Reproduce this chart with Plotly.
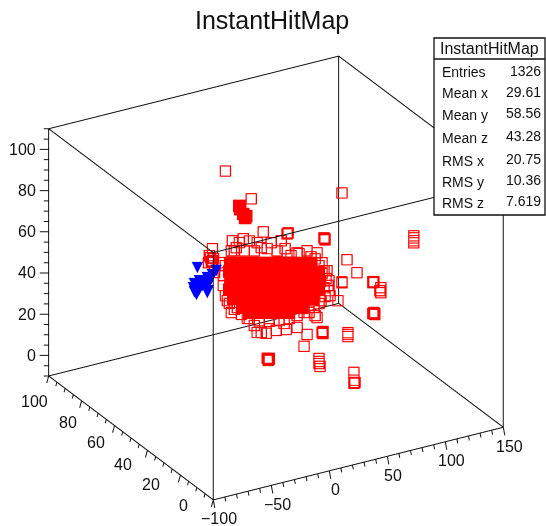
import plotly.graph_objects as go

# ---- data (x, y, z of hits) ----
open_x = [-4.6,17.7,95.9,28,49.5,48.6,81.3,81.3,80.4,1.4,10.8,16,43.5,34.9,7.4,22.8,-15.8,-19.2,-15.8,65.8,74.4,78.7,52,100.2,108.8,95.9,95.9,122.5,122.5,123.4,129.4,129.4,128.5,129.4,123.4,122.5,123.4,124.2,124.2,
          92.4,85.6,80.4,74.4,65.8,63.2,79.5,79.5,78.7,79.5,101,101,101,47.8,39.2,22.8,30.6,26.3,57.2,32.3,31.4,33.2,32.3,33.2,76.1,76.1,77,76.1,
          14.3,24.6,33.2,5.7,72.7,60.6,70,78.7,-14,-9.8,3.1,58.9,84.7,83,77.8,-2.9,0.5,50.3,67.5,20.3,46,
          .5,4.8,11.7,20.3,26.3,31.4,40,46.9,57.2,69.2,72.7,76.1,80.4,82.1,83.8,84.7,81.3,76.1,71.8,63.2,57.2,41.7,33.2,16,9.1,3.1,-1.2,-4.6,-6.4,-6.4,-4.6,
          -17.5,-16.7,-18.4,-14.9]
open_y = [60]*123
open_z = [100.1,83.5,75.3,66,62.5,62.1,55.1,54.6,55.7,65.4,65.1,63.3,59.5,59.8,63.7,61.5,64,57.7,58.2,51.5,49.3,43.9,51.1,42.3,34.8,31.7,32.2,28.5,28,28.4,23.2,24.6,23.3,22.2,12.9,13,13.4,12.8,12.3,
          23.5,26.9,31.5,17.9,10.9,5.5,9.9,10.4,10,9.4,5.9,6.8,4.9,15.8,16.6,17.9,16.4,17.4,15.5,3.5,4.2,3.4,3,3.9,-2.2,-4.7,-6.2,-3.7,
          25.9,23.4,23.2,32.4,19.1,24.6,26.7,38.6,52.2,56.4,60.4,51.1,34.3,39.4,25.6,37,30.7,20.8,21.3,21.6,19,
          60.7,61.6,59.1,57.9,58.6,57.4,55.1,55.2,51.7,48.1,46.6,42.8,39.7,35.7,32.1,29.5,27.1,24.4,23.1,21.9,21.3,21,21.8,25.6,28.6,31.9,35.4,39.6,44.8,49.6,54.2,
          59.9,57.9,61,59.1]

far_x = [143.6,143.6,143.6,143.6]
far_y = [50,50,50,50]
far_z = [53.8,52.8,51.4,50.4]

low_x = [77.8,77.8,78.7,77.8]
low_y = [40,40,40,40]
low_z = [2.8,-2.5,-2.2,-1]

# the dense core, where the open squares merge into solid red
core_x = [.5,9.1,17.7,26.3,34.9,43.5,52,60.6,69.2,
          -1.2,7.4,16,24.6,33.2,41.7,50.3,58.9,67.5,76.1,
          -.3,8.2,16.8,25.4,34,42.6,51.2,59.8,68.4,77,
          -1.2,7.4,16,24.6,33.2,41.7,50.3,58.9,67.5,76.1,
          2.2,10.8,19.4,28,36.6,45.2,53.8,62.4,71,
          10,18.6,27.1,35.7,44.3,52.9,61.5,
          16,24.6,33.2,41.7,50.3,
          7.4,8.2,10.8,13.4,12.5]
core_y = [60]*65
core_z = [54.9,53.7,52.5,51.3,50.1,48.9,47.7,46.4,45.2,
          50.9,49.7,48.4,47.2,46,44.8,43.6,42.4,41.2,39.9,
          46.3,45.1,43.9,42.7,41.5,40.3,39.1,37.9,36.6,35.4,
          42.2,41,39.7,38.5,37.3,36.1,34.9,33.7,32.5,31.2,
          37.3,36.1,34.9,33.6,32.4,31.2,30,28.8,27.6,
          31.8,30.6,29.4,28.2,26.9,25.7,24.5,
          28.5,27.3,26.1,24.9,23.7,
          81.6,79.9,77.2,75.8,75]

blue_x = [-42.9,-26.6,-30,-34.3,-30.9,-36.9,-41.2,-45.5,-42.9,-38.6,-34.3,-46.3,-41.2,-35.2,-45.5,-43.7,-33.4,-34.3,-43.7]
blue_y = [50]*19
blue_z = [64.7,61,59.4,58.6,57.7,57,58.1,57.3,56,55.3,55.7,55.4,53.8,53.5,53.4,52.9,52.2,51.3,51.7]

x_ticks = [-100,-50,0,50,100,150]
y_ticks = [0,20,40,60,80,100]
z_ticks = [0,20,40,60,80,100]
x_labels = ["\u2212100","\u221250","0","50","100","150"]
y_labels = ["0","20","40","60","80","100"]
z_labels = ["0","20","40","60","80","100"]

stat_names = ["Entries","Mean x","Mean y","Mean z","RMS x","RMS y","RMS z"]
stat_values = ["1326","29.61","58.56","43.28","20.75","10.36","7.619"]
title = "InstantHitMap"

# ---- frame ----
X0,X1 = -100,150
Y0,Y1 = 0,100
Z0,Z1 = -10,110
PAD_X,PAD_Y,PAD_Z = 25,10,12   # room for tick marks outside the drawn frame

fx,fy,fz = [],[],[]
def seg(a,b):
    for v,arr in zip(a,(fx,fy,fz)):
        arr.append(v)
    for v,arr in zip(b,(fx,fy,fz)):
        arr.append(v)
    for arr in (fx,fy,fz):
        arr.append(None)
for z in (Z0,Z1):
    seg((X0,Y0,z),(X1,Y0,z)); seg((X1,Y0,z),(X1,Y1,z))
    seg((X1,Y1,z),(X0,Y1,z)); seg((X0,Y1,z),(X0,Y0,z))
for px,py in ((X0,Y0),(X1,Y0),(X1,Y1),(X0,Y1)):
    seg((px,py,Z0),(px,py,Z1))

tx,ty,tz = [],[],[]
def tick(p,d,k):
    for v,dv,arr in zip(p,d,(tx,ty,tz)):
        arr.append(v); arr.append(v+dv*k); arr.append(None)
for v in range(-100,151,10):
    tick((v,Y0,Z0),(0,-0.9,-3.4),1 if v%50==0 else 0.55)
for v in range(0,101,5):
    tick((X0,v,Z0),(-1.7,0,-3.2),1 if v%20==0 else 0.55)
for v in range(-10,111,5):
    tick((X0,Y1,v),(-5.8,1.36,0),1 if v%20==0 else 0.55)

RED="#ff0000"; BLUE="#0000ff"; INK="#111111"
fig = go.Figure()
fig.add_trace(go.Scatter3d(x=fx,y=fy,z=fz,mode="lines",line=dict(color=INK,width=2),hoverinfo="skip"))
fig.add_trace(go.Scatter3d(x=tx,y=ty,z=tz,mode="lines",line=dict(color=INK,width=2),hoverinfo="skip"))
fig.add_trace(go.Scatter3d(x=core_x,y=core_y,z=core_z,mode="markers",marker=dict(symbol="square",size=6.5,color=RED)))
fig.add_trace(go.Scatter3d(x=open_x+far_x+low_x,y=open_y+far_y+low_y,z=open_z+far_z+low_z,mode="markers",
                           marker=dict(symbol="square-open",size=4.6,color=RED,line=dict(width=1,color=RED))))
fig.add_trace(go.Scatter3d(x=blue_x,y=blue_y,z=blue_z,mode="text",text=["\u25bc"]*len(blue_x),textposition="middle center",
                           textfont=dict(color=BLUE,size=15,family="DejaVu Sans")))

ann=[]
F=dict(family="Liberation Sans",size=16,color=INK)
for v,l in zip(x_ticks,x_labels):
    ann.append(dict(x=v,y=Y0,z=Z0,text=l,showarrow=False,xshift=6,yshift=-19,font=F))
for v,l,(sx,sy) in zip(y_ticks,y_labels,[(-30,-6),(-29,-9),(-24,-14),(-19,-17),(-14,-22),(-14,-26)]):
    ann.append(dict(x=X0,y=v,z=Z0,text=l,showarrow=False,xshift=sx,yshift=sy,font=F))
for v,l in zip(z_ticks,z_labels):
    ann.append(dict(x=X0,y=Y1,z=v,text=l,showarrow=False,xanchor="right",xshift=-11,font=F))

axis=dict(visible=False,showbackground=False,showspikes=False)
fig.update_layout(
    width=546,height=526,margin=dict(l=0,r=0,t=0,b=0),paper_bgcolor="white",showlegend=False,
    scene=dict(
        domain=dict(x=[6/546,1],y=[0,1-30/526]),
        xaxis=dict(axis,range=[X0-PAD_X,X1+PAD_X]),
        yaxis=dict(axis,range=[Y0-PAD_Y,Y1+PAD_Y]),
        zaxis=dict(axis,range=[Z0-PAD_Z,Z1+PAD_Z]),
        aspectmode="manual",aspectratio=dict(x=1.62,y=1.594,z=1.328),
        camera=dict(eye=dict(x=-0.9,y=-1.56,z=0.868),up=dict(x=0,y=0,z=1),center=dict(x=0,y=0,z=0),
                    projection=dict(type="orthographic")),
        annotations=ann,
    ),
    shapes=[
        dict(type="rect",xref="paper",yref="paper",x0=434/546,x1=545/546,y0=1-215/526,y1=1-38/526,
             fillcolor="white",line=dict(color=INK,width=1.3),layer="above"),
        dict(type="line",xref="paper",yref="paper",x0=434/546,x1=545/546,y0=1-59/526,y1=1-59/526,
             line=dict(color=INK,width=1.3),layer="above"),
    ],
    annotations=[
        dict(text=title,xref="paper",yref="paper",x=272/546,y=1-20/526,xanchor="center",yanchor="middle",showarrow=False,
             font=dict(family="Liberation Sans",size=25,color=INK)),
        dict(text=title,xref="paper",yref="paper",x=489/546,y=1-48/526,xanchor="center",yanchor="middle",showarrow=False,
             font=dict(family="Liberation Sans",size=16,color=INK)),
    ]+[
        dict(text=n,xref="paper",yref="paper",x=440/546,y=1-r/526,xanchor="left",yanchor="middle",showarrow=False,
             font=dict(family="Liberation Sans",size=14,color=INK))
        for n,r in zip(stat_names,[72,93,115,138,161,182,203])
    ]+[
        dict(text=n,xref="paper",yref="paper",x=543/546,y=1-r/526,xanchor="right",yanchor="middle",showarrow=False,
             font=dict(family="Liberation Sans",size=14,color=INK))
        for n,r in zip(stat_values,[71,92,113,136,159,180,201])
    ],
)
fig.write_html("out.html",config=dict(displayModeBar=False),
               post_script="document.body.style.margin='0';document.documentElement.style.overflow='hidden';")
